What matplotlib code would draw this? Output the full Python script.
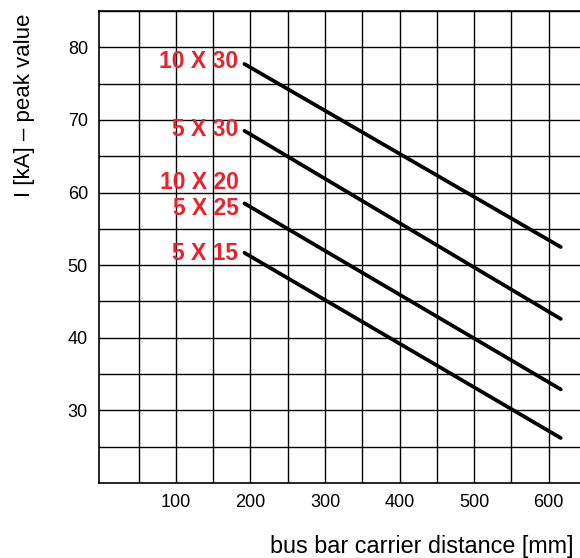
import matplotlib.pyplot as plt

plt.rcParams['font.family'] = ['Liberation Sans', 'DejaVu Sans']

# bus bar carrier distance [mm] at start / end of each curve
distance = [192, 616]

# peak current [kA] for each bar size
i_10x30 = [77.7, 52.5]
i_5x30 = [68.5, 42.6]
i_10x20_5x25 = [58.5, 32.9]
i_5x15 = [51.7, 26.2]

labels = ['10 X 30', '5 X 30', '10 X 20', '5 X 25', '5 X 15']
label_y = [78.1, 68.7, 61.4, 57.8, 51.6]

fig = plt.figure(figsize=(5.8, 5.58), dpi=100)
ax = fig.add_axes([0.1707, 0.1344, 0.8398, 0.8459])

for series in [i_10x30, i_5x30, i_10x20_5x25, i_5x15]:
    ax.plot(distance, series, color='black', lw=2.7, solid_capstyle='round', zorder=3)

for txt, yy in zip(labels, label_y):
    ax.text(184, yy, txt, color='#e8232b', fontsize=16.5, fontweight='bold',
            ha='right', va='center', zorder=4)

ax.set_xlim(-3, 650)
ax.set_ylim(20, 85)

ax.set_xticks(range(100, 700, 100))
ax.set_xticks(range(50, 700, 100), minor=True)
ax.set_yticks(range(30, 90, 10))
ax.set_yticks(range(25, 90, 10), minor=True)

ax.grid(True, which='both', color='black', lw=1.0)
ax.tick_params(which='both', length=0, labelsize=13)
ax.tick_params(axis='x', pad=8)
ax.tick_params(axis='y', pad=8)

for s in ['left', 'bottom', 'top']:
    ax.spines[s].set_linewidth(1.2)
ax.spines['right'].set_visible(False)

ax.set_xlabel('bus bar carrier distance [mm]', fontsize=16.8, ha='left', va='center')
ax.xaxis.set_label_coords(0.352, -0.135)
ax.set_ylabel('I [kA] – peak value', fontsize=16, va='center')
ax.yaxis.set_label_coords(-0.152, 0.80)

plt.savefig('out.png', dpi=100)
